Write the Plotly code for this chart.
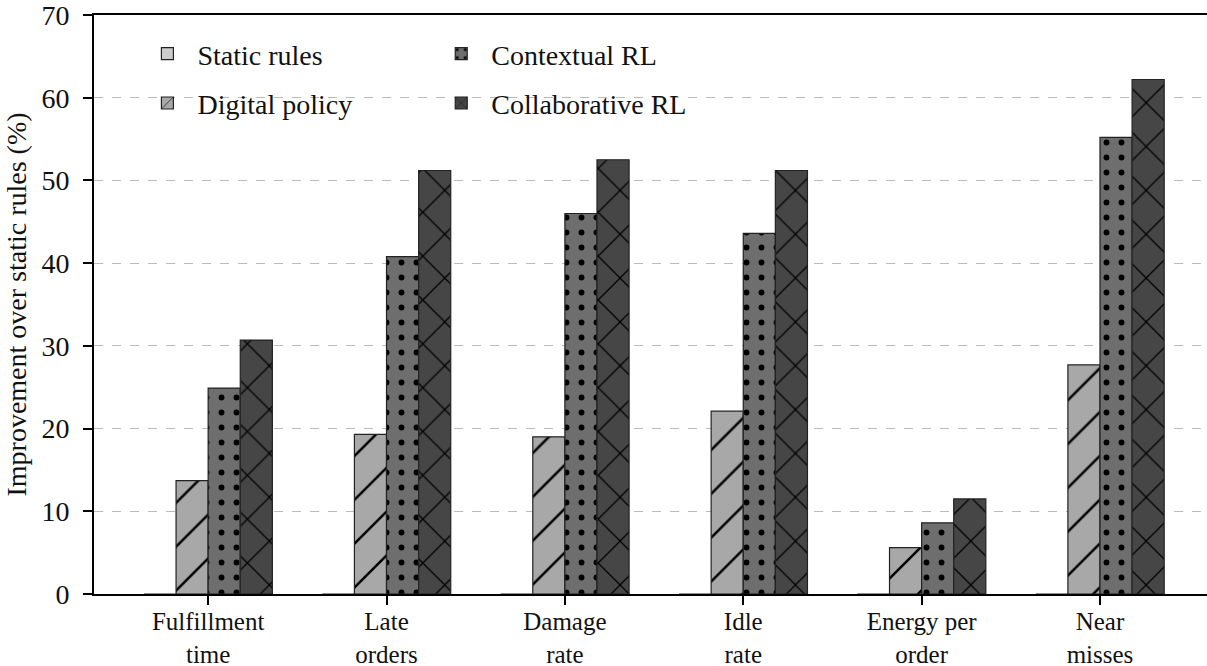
import plotly.graph_objects as go

categories = ["Fulfillment<br>time", "Late<br>orders", "Damage<br>rate", "Idle<br>rate", "Energy per<br>order", "Near<br>misses"]
static_rules = [0, 0, 0, 0, 0, 0]
digital_policy = [13.7, 19.3, 19.0, 22.1, 5.6, 27.7]
contextual_rl = [24.9, 40.8, 46.0, 43.6, 8.6, 55.2]
collaborative_rl = [30.7, 51.2, 52.5, 51.2, 11.5, 62.2]

FONT = "Liberation Serif"

series = [
    ("Static rules", static_rules, "#cccccc", "", "legend", "g1"),
    ("Digital policy", digital_policy, "#a8a8a8", "/", "legend", "g2"),
    ("Contextual RL", contextual_rl, "#6e6e6e", ".", "legend2", "g3"),
    ("Collaborative RL", collaborative_rl, "#464646", "x", "legend2", "g4"),
]
pat_size = {"": 8, "/": 31, ".": 15, "x": 31}
pat_sol = {"": 0.2, "/": 0.08, ".": 0.12, "x": 0.08}

fig = go.Figure()
for name, vals, col, shp, leg, grp in series:
    fig.add_trace(go.Bar(
        name=name, x=categories, y=vals, legend=leg, legendgroup=grp,
        marker=dict(
            color=col,
            line=dict(color="#222222", width=1.2),
            pattern=dict(shape=shp, fgcolor="#000000", bgcolor=col,
                         size=pat_size[shp], solidity=pat_sol[shp], fillmode="replace"),
        ),
    ))

fig.update_layout(
    width=1207, height=666,
    margin=dict(l=94, r=0, t=15, b=72),
    paper_bgcolor="white", plot_bgcolor="white",
    barmode="group", bargap=0.28, bargroupgap=0,
    font=dict(family=FONT, size=28, color="#111111"),
    legend=dict(x=0.039, y=0.976, xanchor="left", yanchor="top",
                bgcolor="rgba(0,0,0,0)", font=dict(family=FONT, size=28),
                tracegroupgap=10, itemwidth=50),
    legend2=dict(x=0.303, y=0.976, xanchor="left", yanchor="top",
                 bgcolor="rgba(0,0,0,0)", font=dict(family=FONT, size=28),
                 tracegroupgap=10, itemwidth=50),
    xaxis=dict(
        type="category", range=[-0.64, 5.60], automargin=False,
        showline=True, linecolor="#000000", linewidth=2, mirror=True,
        ticks="outside", ticklen=9, tickwidth=1.5, tickcolor="#000000",
        ticklabelstandoff=-5,
        showgrid=False, tickfont=dict(family=FONT, size=25),
    ),
    yaxis=dict(
        range=[0, 70], dtick=10, automargin=False,
        showline=True, linecolor="#000000", linewidth=2,
        ticks="outside", ticklen=9, tickwidth=1.5, tickcolor="#000000",
        ticklabelstandoff=8, ticklabeloverflow="allow",
        showgrid=True, gridcolor="#bbbbbb", griddash="dash", gridwidth=1,
        zeroline=False, tickfont=dict(family=FONT, size=28),
        title=dict(text="Improvement over static rules (%)", font=dict(family=FONT, size=28), standoff=7),
    ),
)

fig.write_html("out.html", config={"displayModeBar": False},
               post_script="document.body.style.margin='0';")
